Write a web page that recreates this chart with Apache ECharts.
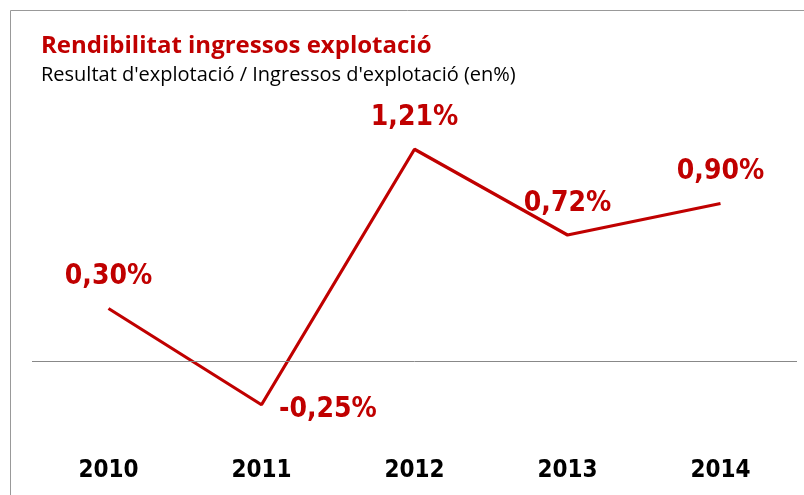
<!DOCTYPE html>
<html>
<head>
<meta charset="utf-8">
<script src="https://cdn.jsdelivr.net/npm/echarts@6/dist/echarts.min.js"></script>
<style>
  html, body { margin: 0; padding: 0; background: #fff; }
  #chart { width: 804px; height: 495px; }
</style>
</head>
<body>
<div id="chart"></div>
<script>
// anys i rendibilitat (%)
var years = ['2010', '2011', '2012', '2013', '2014'];
var rendibilitat = [0.30, -0.25, 1.21, 0.72, 0.90];

var red = '#C00000';
var font = 'Open Sans';
var narrow = 'DejaVu Sans Condensed';

// etiqueta amb coma decimal
function fmt(v) {
  return v.toFixed(2).replace('.', ',') + '%';
}

var chart = echarts.init(document.getElementById('chart'));

var points = rendibilitat.map(function (v) {
  if (v < 0) {
    // el valor negatiu va a la dreta del punt
    return { value: v, label: { position: 'right', distance: 17, offset: [0, 5] } };
  }
  return v;
});

chart.setOption({
  animation: false,
  title: {
    text: 'Rendibilitat ingressos explotació',
    subtext: "Resultat d'explotació / Ingressos d'explotació (en%)",
    left: 36,
    top: 29,
    itemGap: 7,
    textStyle: { color: red, fontFamily: font, fontWeight: 'bold', fontSize: 24 },
    subtextStyle: { color: '#000', fontFamily: font, fontSize: 20 }
  },
  graphic: [{
    type: 'rect',
    shape: { x: 10.5, y: 10.5, width: 820, height: 520 },
    style: { fill: 'none', stroke: '#999', lineWidth: 1 }
  }],
  grid: { left: 32, top: 98.5, width: 765, height: 350 },
  xAxis: {
    type: 'category',
    data: years,
    boundaryGap: true,
    axisLine: { show: false, onZero: false },
    axisTick: { show: false },
    axisLabel: { color: '#000', fontFamily: narrow, fontWeight: 'bold', fontSize: 24, margin: 10 }
  },
  yAxis: {
    type: 'value',
    min: -0.5,
    max: 1.5,
    show: false,
    splitLine: { show: false }
  },
  series: [{
    type: 'line',
    data: points,
    symbol: 'circle',
    symbolSize: 1,
    showSymbol: true,
    itemStyle: { color: 'rgba(0,0,0,0)' },
    emphasis: { disabled: true },
    lineStyle: { color: red, width: 3.2 },
    label: {
      show: true,
      position: 'top',
      distance: 17,
      color: red,
      fontFamily: narrow,
      fontWeight: 'bold',
      fontSize: 28,
      formatter: function (p) { return fmt(p.value); }
    },
    markLine: {
      silent: true,
      symbol: 'none',
      label: { show: false },
      lineStyle: { color: '#888', width: 1, type: 'solid' },
      data: [{ yAxis: 0 }]
    }
  }]
});
</script>
</body>
</html>
